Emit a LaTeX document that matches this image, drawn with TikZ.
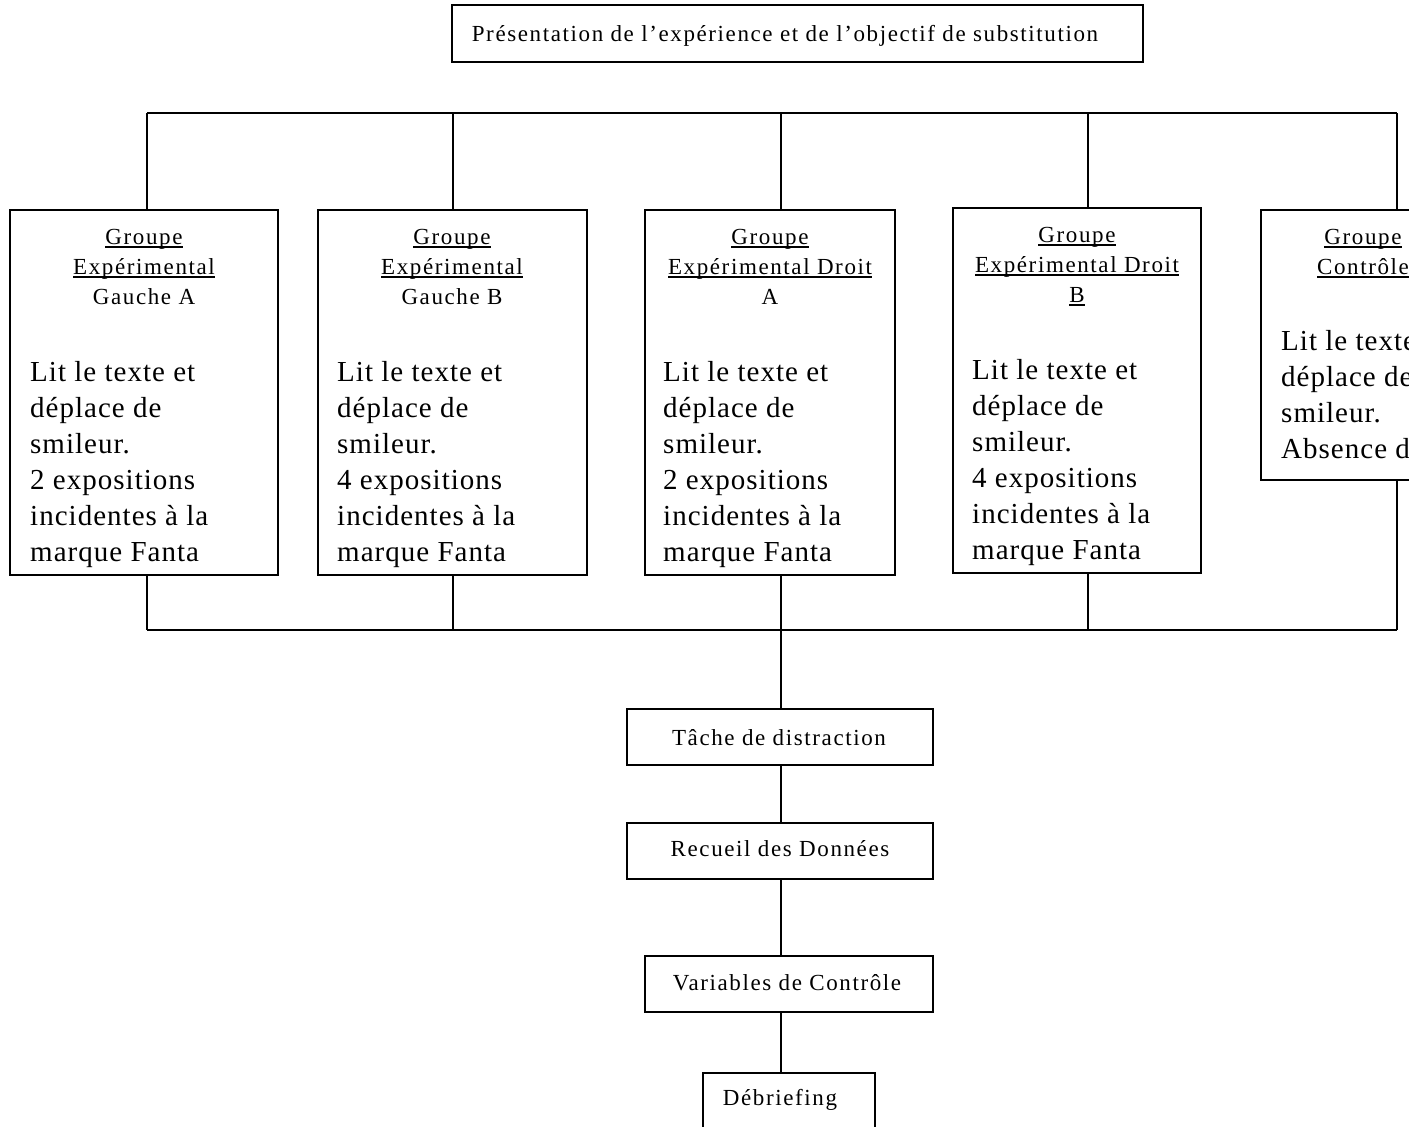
\documentclass[tikz,border=0pt]{standalone}
\usepackage{fontspec}
\setmainfont{Liberation Serif}
\newfontfamily\smallf{Liberation Serif}[LetterSpace=7]
\newfontfamily\bigf{Liberation Serif}[LetterSpace=3.5]
\newcommand\myul[1]{\setbox0\hbox{#1}\rlap{\rule[-3.5pt]{\wd0}{1.4pt}}\box0}
\begin{document}
\begin{tikzpicture}[x=1pt,y=-1pt,
  box/.style={draw, line width=1.6pt, inner sep=0pt, outer sep=0pt, anchor=north west},
  hd/.style={inner sep=0pt, anchor=base, font=\smallf\fontsize{23}{30}\selectfont},
  bd/.style={inner sep=0pt, anchor=base west, font=\bigf\fontsize{29}{36}\selectfont},
  lbl/.style={inner sep=0pt, anchor=base, font=\smallf\fontsize{23}{28}\selectfont},
  wire/.style={line width=1.6pt}]
\useasboundingbox (0,0) rectangle (1409,1127);
\fill[white] (0,0) rectangle (1409,1127);
\clip (0,0) rectangle (1409,1127);

% top box
\node[box, minimum width=691pt, minimum height=57pt] (top) at (452,5) {};
\node[lbl] (toptxt) at (785,41) {Présentation de l’expérience et de l’objectif de substitution};

% group boxes
\node[box, minimum width=268pt, minimum height=365pt] (g1) at (10,210) {};
\node[box, minimum width=269pt, minimum height=365pt] (g2) at (318,210) {};
\node[box, minimum width=250pt, minimum height=365pt] (g3) at (645,210) {};
\node[box, minimum width=248pt, minimum height=365pt] (g4) at (953,208) {};
\node[box, minimum width=268pt, minimum height=270pt] (g5) at (1261,210) {};

\node[hd] (h1) at (144,244) {\begin{tabular}[t]{@{}c@{}}\myul{Groupe}\\\myul{Expérimental}\\Gauche A\end{tabular}};
\node[hd] (h2) at (452,244) {\begin{tabular}[t]{@{}c@{}}\myul{Groupe}\\\myul{Expérimental}\\Gauche B\end{tabular}};
\node[hd] (h3) at (770,244) {\begin{tabular}[t]{@{}c@{}}\myul{Groupe}\\\myul{Expérimental Droit}\\A\end{tabular}};
\node[hd] (h4) at (1077,242) {\begin{tabular}[t]{@{}c@{}}\myul{Groupe}\\\myul{Expérimental Droit}\\\myul{B}\end{tabular}};
\node[hd] (h5) at (1363,244) {\begin{tabular}[t]{@{}c@{}}\myul{Groupe}\\\myul{Contrôle}\end{tabular}};

\node[bd] (b1) at (30,381) {\begin{tabular}[t]{@{}l@{}}Lit le texte et\\déplace de\\smileur.\\2 expositions\\incidentes à la\\marque Fanta\end{tabular}};
\node[bd] (b2) at (337,381) {\begin{tabular}[t]{@{}l@{}}Lit le texte et\\déplace de\\smileur.\\4 expositions\\incidentes à la\\marque Fanta\end{tabular}};
\node[bd] (b3) at (663,381) {\begin{tabular}[t]{@{}l@{}}Lit le texte et\\déplace de\\smileur.\\2 expositions\\incidentes à la\\marque Fanta\end{tabular}};
\node[bd] (b4) at (972,379) {\begin{tabular}[t]{@{}l@{}}Lit le texte et\\déplace de\\smileur.\\4 expositions\\incidentes à la\\marque Fanta\end{tabular}};
\node[bd] (b5) at (1281,350) {\begin{tabular}[t]{@{}l@{}}Lit le texte et\\déplace de\\smileur.\\Absence d’exposition\end{tabular}};

% rails
\coordinate (ta) at (147,113);
\coordinate (tb) at (453,113);
\coordinate (tc) at (781,113);
\coordinate (td) at (1088,113);
\coordinate (te) at (1397,113);
\coordinate (ba) at (147,630);
\coordinate (bb) at (453,630);
\coordinate (bc) at (781,630);
\coordinate (bd) at (1088,630);
\coordinate (be) at (1397,630);
\draw[wire] (ta) -- (te);
\draw[wire] (ta) -- (ta |- g1.north);
\draw[wire] (tb) -- (tb |- g2.north);
\draw[wire] (tc) -- (tc |- g3.north);
\draw[wire] (td) -- (td |- g4.north);
\draw[wire] (te) -- (te |- g5.north);
\draw[wire] (ba) -- (be);
\draw[wire] (ba |- g1.south) -- (ba);
\draw[wire] (bb |- g2.south) -- (bb);
\draw[wire] (bc |- g3.south) -- (bc);
\draw[wire] (bd |- g4.south) -- (bd);
\draw[wire] (be |- g5.south) -- (be);

% lower chain
\node[box, minimum width=306pt, minimum height=56pt] (t1) at (627,709) {};
\node[lbl] (t1txt) at (779,745) {Tâche de distraction};
\node[box, minimum width=306pt, minimum height=56pt] (t2) at (627,823) {};
\node[lbl] (t2txt) at (780,856) {Recueil des Données};
\node[box, minimum width=288pt, minimum height=56pt] (t3) at (645,956) {};
\node[lbl] (t3txt) at (787,990) {Variables de Contrôle};
\node[box, minimum width=172pt, minimum height=80pt] (t4) at (703,1073) {};
\node[lbl] (t4txt) at (780,1105) {Débriefing};

\draw[wire] (bc) -- (bc |- t1.north);
\draw[wire] (bc |- t1.south) -- (bc |- t2.north);
\draw[wire] (bc |- t2.south) -- (bc |- t3.north);
\draw[wire] (bc |- t3.south) -- (bc |- t4.north);
\end{tikzpicture}
\end{document}
